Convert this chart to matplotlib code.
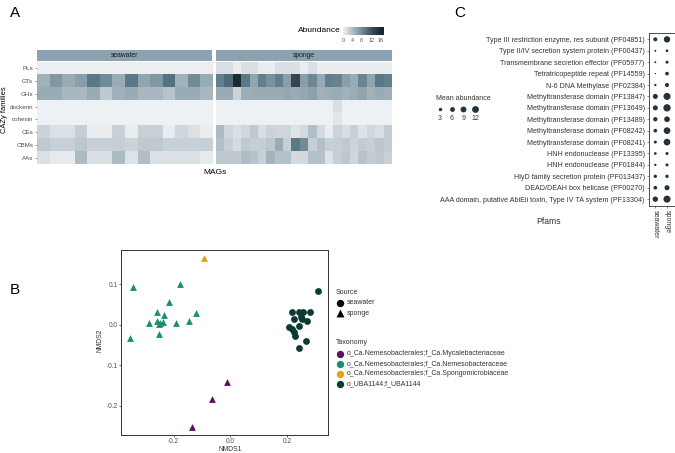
import numpy as np
import matplotlib
matplotlib.use("Agg")
import matplotlib.pyplot as plt
from matplotlib.colors import LinearSegmentedColormap, Normalize

plt.rcParams['font.family'] = ['Liberation Sans', 'DejaVu Sans']

# ---------------- data: panel A ----------------
cazy_families = ["PLs", "GTs", "GHs", "dockerin", "cohesin", "CEs", "CBMs", "AAs"]
seawater_vals = {
    "PLs":      [0.2] * 14,
    "GTs":      [5, 7, 5.5, 6.5, 9.5, 8, 5.5, 9.5, 6, 7, 10, 5, 8, 5.5],
    "GHs":      [5.5, 5.5, 4.5, 4.5, 5.5, 3, 5, 5.5, 4.5, 4.5, 3.5, 5.5, 5.5, 4.5],
    "dockerin": [0] * 14,
    "cohesin":  [0] * 14,
    "CEs":      [2.3, 1.3, 1.3, 2.7, 0.3, 0.3, 2.5, 0.3, 2.5, 2.5, 0.3, 2, 1.3, 0.3],
    "CBMs":     [3, 2.5, 2.5, 3.2, 2.5, 2.5, 2.7, 2.2, 3, 3, 2.5, 2.5, 2.5, 2.5],
    "AAs":      [1.3, 0.5, 0.5, 4.2, 1.4, 1.4, 4.2, 1.2, 4, 1.3, 1.3, 1.3, 1.3, 0.5],
}
sponge_vals = {
    "PLs":      [1.5, 1.5, 0.3, 1.4, 1.4, 0.3, 0.3, 1.4, 1.4, 1.4, 0.3, 1.4, 0.3, 0.3, 0.3, 0.3, 0.3, 0.3, 0.3, 0.3, 0.3],
    "GTs":      [9, 10.5, 16, 9.5, 6, 9, 7.5, 9, 6.5, 13, 6.5, 8.3, 5.7, 9, 8.8, 6.5, 5.5, 8.5, 6, 9.5, 9],
    "GHs":      [5.5, 5.5, 2.3, 5.3, 5.5, 5.5, 5.5, 5.5, 5.8, 5.5, 5.8, 6.3, 5, 5.2, 5.5, 5, 5.5, 6, 5, 5.5, 5.2],
    "dockerin": [0] * 14 + [1.5] + [0] * 6,
    "cohesin":  [0] * 14 + [1.0] + [0] * 6,
    "CEs":      [4.2, 2.1, 1.3, 2, 3, 1.5, 2.3, 2, 2, 1.1, 1.8, 4, 1.8, 0.4, 2.2, 1.5, 2.5, 1.2, 2, 1.5, 2.8],
    "CBMs":     [3.8, 2.6, 1.7, 3, 2.6, 2.6, 3.2, 5.5, 2.6, 9.5, 8, 2.6, 3.8, 2.5, 2.6, 3, 2.2, 2.8, 2.5, 3.3, 2.8],
    "AAs":      [3, 3, 3, 4, 3.5, 2.4, 4.8, 3.7, 3.8, 1.8, 1.8, 3.8, 3.7, 1.1, 2.6, 3.2, 2, 3.5, 2.8, 3, 2.5],
}
abund_ticks = [0, 4, 8, 12, 16]
abund_max = 17.5

# ---------------- data: panel B ----------------
nmds_tax = ["o_Ca.Nemesobacterales;f_Ca.Mycalebacteriaceae",
            "o_Ca.Nemesobacterales;f_Ca.Nemesobacteraceae",
            "o_Ca.Nemesobacterales;f_Ca.Spongomicrobiaceae",
            "o_UBA1144;f_UBA1144"]
tax_colors = ["#5c1060", "#17906f", "#e6a01a", "#0b3a36"]
# sponge (triangles)
green_x = [-0.344, -0.177, -0.215, -0.259, -0.233, -0.121, -0.286, -0.259, -0.248, -0.238, -0.250, -0.192, -0.145, -0.250, -0.352]
green_y = [0.092, 0.100, 0.057, 0.031, 0.024, 0.028, 0.003, 0.010, 0.005, 0.007, 0.001, 0.005, 0.009, -0.023, -0.032]
yellow_x = [-0.092]
yellow_y = [0.165]
purple_x = [-0.013, -0.063, -0.135]
purple_y = [-0.141, -0.183, -0.252]
# seawater (circles)
dark_x = [0.310, 0.217, 0.242, 0.257, 0.280, 0.224, 0.249, 0.251, 0.270, 0.206, 0.217, 0.242, 0.225, 0.228, 0.267, 0.241]
dark_y = [0.084, 0.030, 0.030, 0.030, 0.030, 0.013, 0.020, 0.013, 0.010, -0.007, -0.011, -0.003, -0.018, -0.027, -0.040, -0.057]

# ---------------- data: panel C ----------------
pfams = ["Type III restriction enzyme, res subunit (PF04851)",
         "Type II/IV secretion system protein (PF00437)",
         "Transmembrane secretion effector (PF05977)",
         "Tetratricopeptide repeat (PF14559)",
         "N-6 DNA Methylase (PF02384)",
         "Methyltransferase domain (PF13847)",
         "Methyltransferase domain (PF13649)",
         "Methyltransferase domain (PF13489)",
         "Methyltransferase domain (PF08242)",
         "Methyltransferase domain (PF08241)",
         "HNH endonuclease (PF13395)",
         "HNH endonuclease (PF01844)",
         "HlyD family secretion protein (PF013437)",
         "DEAD/DEAH box helicase (PF00270)",
         "AAA domain, putative AbiEii toxin, Type IV TA system (PF13304)"]
pf_seawater = [4.2, 1.0, 1.0, 0.5, 1.4, 6.6, 6.6, 4.9, 3.5, 2.4, 1.9, 1.4, 2.9, 3.5, 7.5]
pf_sponge = [10.5, 1.9, 2.4, 3.5, 4.2, 12.9, 14.0, 8.4, 11.7, 11.7, 2.4, 2.4, 2.9, 6.6, 12.9]
pf_sources = ["seawater", "sponge"]
mean_ab_legend = [3, 6, 9, 12]

# ---------------- layout helpers ----------------
W, H = 675, 453
fig = plt.figure(figsize=(W / 100, H / 100), dpi=100)


def rect(x0, y0, x1, y1):
    return [x0 / W, 1 - y1 / H, (x1 - x0) / W, (y1 - y0) / H]


overlay = fig.add_axes([0, 0, 1, 1], zorder=10)
overlay.set_xlim(0, W)
overlay.set_ylim(H, 0)
overlay.axis("off")
overlay.patch.set_alpha(0)

# ---------------- panel A ----------------
stops = [(0.0, "#eef1f3"), (0.074, "#dce1e5"), (0.17, "#bfcad0"), (0.34, "#93a6b0"),
         (0.54, "#5a7a8a"), (0.74, "#34464f"), (0.91, "#1e2a30"), (1.0, "#1a2428")]
cmap = LinearSegmentedColormap.from_list("abund", stops)
norm = Normalize(0, abund_max)

sw_mat = np.array([seawater_vals[f] for f in cazy_families])
sp_mat = np.array([sponge_vals[f] for f in cazy_families])

for i, (mat, name, x0, x1) in enumerate([(sw_mat, "seawater", 36.7, 212.3), (sp_mat, "sponge", 216, 392)]):
    ax = fig.add_axes(rect(x0, 62, x1, 164))
    ax.imshow(mat, cmap=cmap, norm=norm, aspect="auto", interpolation="nearest")
    for s in ax.spines.values():
        s.set_visible(False)
    ax.set_xticks([])
    if i == 0:
        ax.set_yticks(range(len(cazy_families)))
        ax.set_yticklabels(cazy_families, fontsize=4.5, color="#4d4d4d")
        ax.tick_params(axis="y", length=1.5, width=0.4, color="#4d4d4d", pad=1)
    else:
        ax.set_yticks([])
    sax = fig.add_axes(rect(x0, 50, x1, 61))
    sax.set_facecolor("#8ba3b0")
    sax.set_xticks([]); sax.set_yticks([])
    for s in sax.spines.values():
        s.set_visible(False)
    sax.text(0.5, 0.5, name, ha="center", va="center", fontsize=4.9, color="#1a1a1a", transform=sax.transAxes)

overlay.text(215, 172, "MAGs", ha="center", va="center", fontsize=6)
overlay.text(4.5, 110, "CAZy families", ha="center", va="center", rotation=90, fontsize=5.4)
overlay.text(10, 13, "A", ha="left", va="center", fontsize=11)

cax = fig.add_axes(rect(343, 27, 384, 35))
grad = np.linspace(0, abund_max, 256)[None, :]
cax.imshow(grad, cmap=cmap, norm=norm, aspect="auto", extent=[0, abund_max, 0, 1])
cax.set_yticks([])
cax.set_xticks(abund_ticks)
cax.set_xticklabels([str(t) for t in abund_ticks], fontsize=3.9, color="#4d4d4d")
cax.tick_params(axis="x", length=0, pad=2)
for s in cax.spines.values():
    s.set_visible(False)
overlay.text(298, 31, "Abundance", ha="left", va="center", fontsize=6)

# ---------------- panel B ----------------
axb = fig.add_axes(rect(121.3, 250, 327.7, 435))
msz = 24
axb.scatter(green_x, green_y, marker="^", s=msz, color=tax_colors[1], linewidths=0)
axb.scatter(yellow_x, yellow_y, marker="^", s=msz, color=tax_colors[2], linewidths=0)
axb.scatter(purple_x, purple_y, marker="^", s=msz, color=tax_colors[0], linewidths=0)
axb.scatter(dark_x, dark_y, marker="o", s=msz, color=tax_colors[3], linewidths=0)
axb.set_xlim(-0.384, 0.343)
axb.set_ylim(-0.272, 0.184)
axb.set_xticks([-0.2, 0.0, 0.2])
axb.set_xticklabels(["-0.2", "0.0", "0.2"])
axb.set_yticks([-0.2, -0.1, 0.0, 0.1])
axb.set_yticklabels(["-0.2", "-0.1", "0.0", "0.1"])
axb.tick_params(labelsize=4.7, labelcolor="#4d4d4d", length=1.5, width=0.5, color="#333333", pad=1)
for s in axb.spines.values():
    s.set_linewidth(0.7)
    s.set_color("#333333")
overlay.text(230, 449.5, "NMDS1", ha="center", va="center", fontsize=4.9, color="#333333")
overlay.text(100, 340, "NMDS2", ha="center", va="center", rotation=90, fontsize=4.9, color="#333333")
overlay.text(10, 290, "B", ha="left", va="center", fontsize=11)

# legend B
overlay.text(336, 292, "Source", ha="left", va="center", fontsize=5.0, color="#333333")
overlay.scatter([340], [302.8], marker="o", s=28, color="black", linewidths=0)
overlay.scatter([340], [313.3], marker="^", s=32, color="black", linewidths=0)
overlay.text(347, 302.8, "seawater", ha="left", va="center", fontsize=5.0, color="#333333")
overlay.text(347, 313.3, "sponge", ha="left", va="center", fontsize=5.0, color="#333333")
overlay.text(336, 343, "Taxonomy", ha="left", va="center", fontsize=5.0, color="#333333")
for k, (lab, col) in enumerate(zip(nmds_tax, tax_colors)):
    yy = 353.7 + k * 10
    overlay.scatter([340], [yy], marker="o", s=28, color=col, linewidths=0)
    overlay.text(347, yy, lab, ha="left", va="center", fontsize=5.0, color="#333333")

# ---------------- panel C ----------------
axc = fig.add_axes(rect(649, 32.5, 674.5, 206))
n = len(pfams)
ypos = np.arange(n)[::-1]
dot_col = "#253238"
axc.scatter(np.zeros(n), ypos, s=[2 * v for v in pf_seawater], color=dot_col, linewidths=0)
axc.scatter(np.ones(n), ypos, s=[2 * v for v in pf_sponge], color=dot_col, linewidths=0)
axc.set_xlim(-0.54, 1.64)
axc.set_ylim(-0.6, n - 0.4)
axc.set_yticks(ypos)
axc.set_yticklabels(pfams, fontsize=5.1, color="#333333")
axc.set_xticks([0, 1])
axc.set_xticklabels(pf_sources, rotation=-90, fontsize=5.0, color="#333333", va="top", ha="center")
axc.tick_params(length=1.5, width=0.4, color="#333333", pad=1.5)
for s in axc.spines.values():
    s.set_linewidth(0.6)
    s.set_color("#333333")
overlay.text(549, 222, "Pfams", ha="center", va="center", fontsize=6.2, color="#333333")
overlay.text(454, 13, "C", ha="left", va="center", fontsize=11)

overlay.text(435.7, 98.7, "Mean abundance", ha="left", va="center", fontsize=5.0, color="#333333")
for xx, v in zip([439.7, 451.7, 463.3, 475.3], mean_ab_legend):
    overlay.scatter([xx], [109], s=2 * v, color=dot_col, linewidths=0)
    overlay.text(xx, 119, str(v), ha="center", va="center", fontsize=5.0, color="#333333")

fig.savefig("out.png", dpi=100)
